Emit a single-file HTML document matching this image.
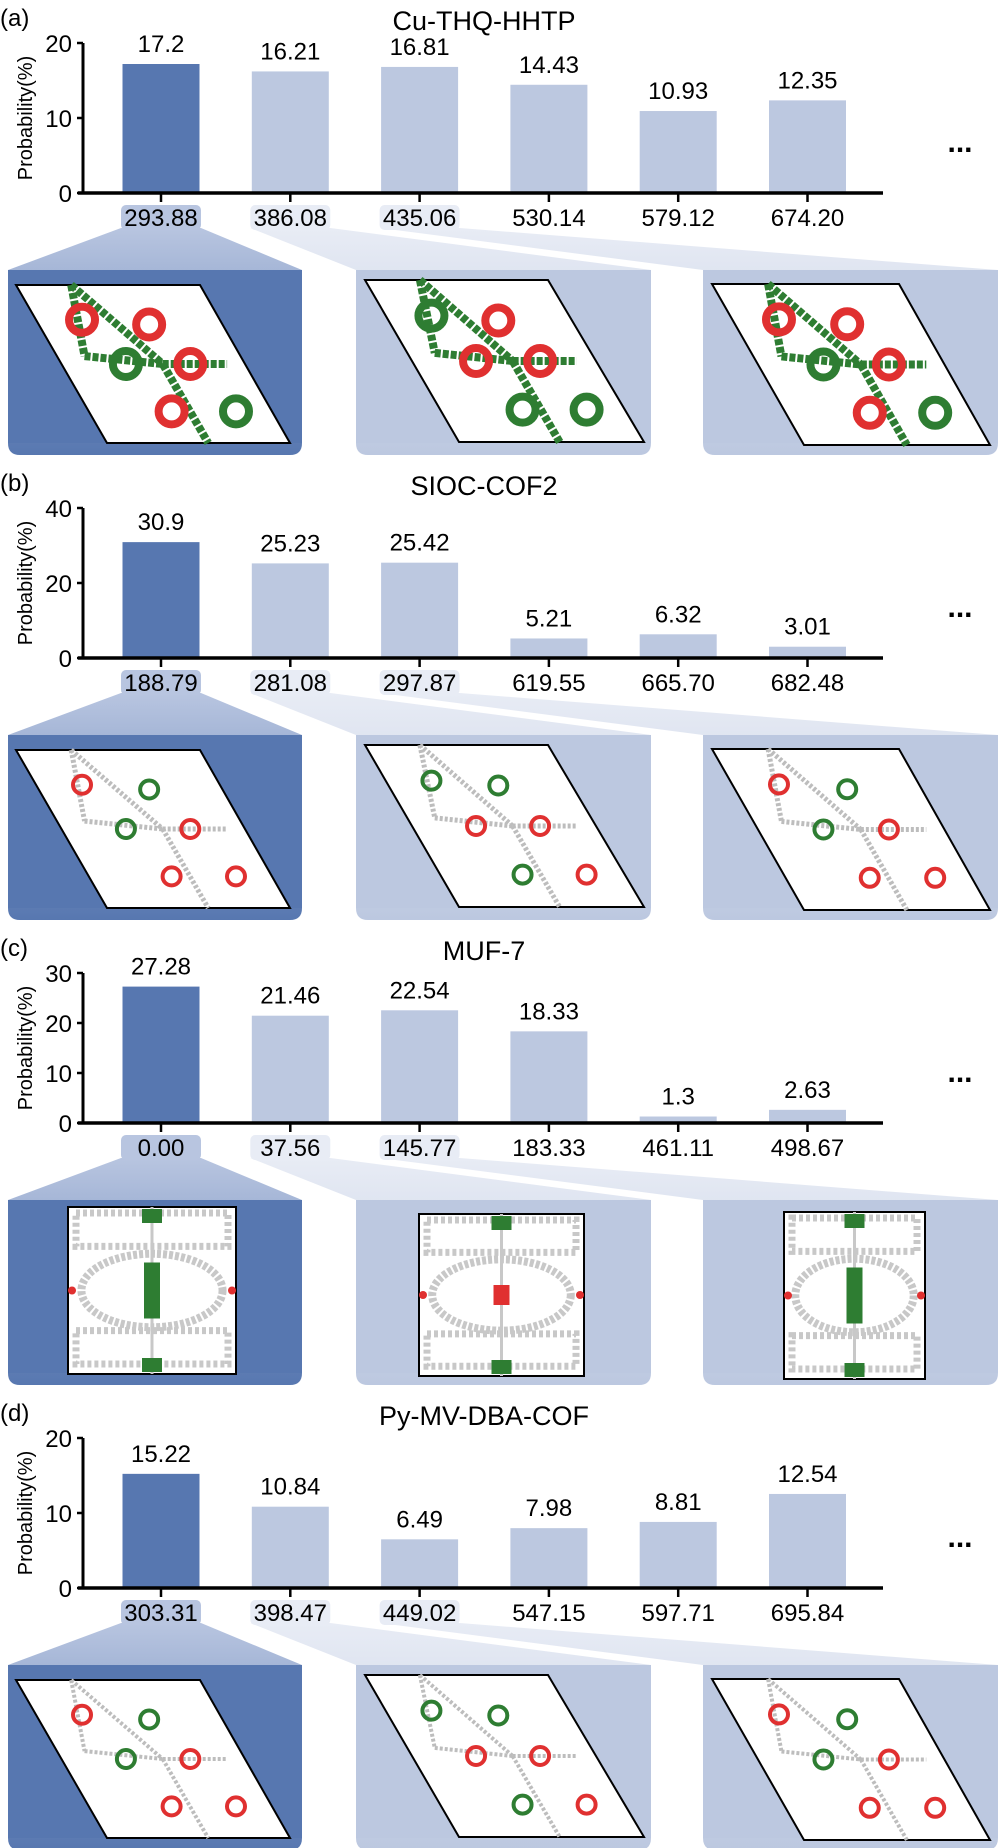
<!DOCTYPE html>
<html><head><meta charset="utf-8">
<style>
html,body{margin:0;padding:0;background:#fff;}
svg{display:block;}
text{font-family:"Liberation Sans Narrow","Liberation Sans",sans-serif;}
</style></head>
<body>
<svg id="fig" xmlns="http://www.w3.org/2000/svg" width="1000" height="1848" viewBox="0 0 1000 1848">
<defs>
<linearGradient id="gDark" x1="0" y1="0" x2="0" y2="1"><stop offset="0" stop-color="#b8c5e0"/><stop offset="1" stop-color="#5777b0"/></linearGradient>
<linearGradient id="gLight" x1="0" y1="0" x2="0" y2="1"><stop offset="0" stop-color="#e8ecf5"/><stop offset="1" stop-color="#bcc8e0"/></linearGradient>
</defs>
</svg>
<script>
const panelTitles = ["Cu-THQ-HHTP","SIOC-COF2","MUF-7","Py-MV-DBA-COF"];
const panelLetters = ["(a)","(b)","(c)","(d)"];
const valuesA = [17.2,16.21,16.81,14.43,10.93,12.35];
const valuesB = [30.9,25.23,25.42,5.21,6.32,3.01];
const valuesC = [27.28,21.46,22.54,18.33,1.3,2.63];
const valuesD = [15.22,10.84,6.49,7.98,8.81,12.54];
const labelsA = ["293.88","386.08","435.06","530.14","579.12","674.20"];
const labelsB = ["188.79","281.08","297.87","619.55","665.70","682.48"];
const labelsC = ["0.00","37.56","145.77","183.33","461.11","498.67"];
const labelsD = ["303.31","398.47","449.02","547.15","597.71","695.84"];
const ticksA = [0,10,20];
const ticksB = [0,20,40];
const ticksC = [0,10,20,30];
const ticksD = [0,10,20];

const allValues=[valuesA,valuesB,valuesC,valuesD];
const allLabels=[labelsA,labelsB,labelsC,labelsD];
const allTicks=[ticksA,ticksB,ticksC,ticksD];
const NS="http://www.w3.org/2000/svg";
const svg=document.getElementById('fig');
function mk(tag,attrs,parent,txt){const e=document.createElementNS(NS,tag);for(const k in attrs)e.setAttribute(k,attrs[k]);if(txt!==undefined)e.textContent=txt;(parent||svg).appendChild(e);return e;}

const DARK="#5777b0",LIGHT="#bcc8e0";
const panelX=[[8,302],[356,651],[703,998]];
const pillY0=205,pillY1=230,panelTop=270,panelBot=455;

for(let p=0;p<4;p++){
  const oy=p*465;
  const g=mk('g',{transform:`translate(0,${oy})`});
  
  
  const vals=allValues[p],labs=allLabels[p],ticks=allTicks[p];
  const ymax=ticks[ticks.length-1];
  const y0=193,y1=43;
  const yS=v=>y0-(v/ymax)*(y0-y1);
  const xC=i=>161+i*129.3;
  const bw=77;
  let t=mk('text',{x:0,y:26,'font-size':24},g,panelLetters[p]);
  
  t=mk('text',{x:484,y:30,'font-size':27,'text-anchor':'middle'},g,panelTitles[p]);
  
  for(let k=0;k<3;k++){
    const pl=xC(k)-40,pr=xC(k)+40;
    const [L,R]=panelX[k];
    const fill=k===0?'url(#gDark)':'url(#gLight)';
    const fp=mk('path',{d:`M${pl},${pillY1-2} L${pr},${pillY1-2} L${R},${panelTop} L${R},${panelBot-12} Q${R},${panelBot} ${R-12},${panelBot} L${L+12},${panelBot} Q${L},${panelBot} ${L},${panelBot-12} L${L},${panelTop} Z`,fill:fill},g);
    
    const bg=mk('rect',{x:L,y:panelTop,width:R-L,height:panelBot-panelTop-12,fill:k===0?DARK:LIGHT},g);
    
    const pill=mk('rect',{x:pl,y:pillY0,width:80,height:pillY1-pillY0,rx:5,fill:k===0?'#b8c5e0':'#e8ecf5'},g);
    
    drawStructure(g,p,k);
  }
  t=mk('text',{transform:`translate(32,118) rotate(-90)`,'font-size':20,'text-anchor':'middle',style:'font-family:"Liberation Sans",sans-serif'},g,'Probability(%)');
  
  vals.forEach((v,i)=>{
    const b=mk('rect',{x:xC(i)-bw/2,y:yS(v),width:bw,height:y0-yS(v),fill:i===0?DARK:LIGHT},g);
    
    const vl=mk('text',{x:xC(i),y:yS(v)-12,'font-size':24,'text-anchor':'middle'},g,String(v));
    
    const tk=mk('line',{x1:xC(i),x2:xC(i),y1:y0,y2:y0+9,stroke:'#000','stroke-width':2.5},g);
    
    const xl=mk('text',{x:xC(i),y:226,'font-size':24,'text-anchor':'middle'},g,labs[i]);
    
  });
  let a=mk('line',{x1:83,x2:83,y1:y1,y2:y0+1.5,stroke:'#000','stroke-width':3},g);
  
  a=mk('line',{x1:78,x2:883,y1:y0,y2:y0,stroke:'#000','stroke-width':3.5},g);
  
  ticks.forEach(tv=>{
    const tl=mk('line',{x1:77,x2:83,y1:yS(tv),y2:yS(tv),stroke:'#000','stroke-width':2.5},g);
    
    const tt=mk('text',{x:72,y:yS(tv)+9,'font-size':24,'text-anchor':'end'},g,String(tv));
    
  });
  const dots=mk('text',{x:960,y:152,'font-size':30,'font-weight':'bold','text-anchor':'middle'},g,'...');
  
}

function drawStructure(g,p,k){
  const sg=mk('g',{},g);
  
  
  if(p===2){
    const sq=[[68,236,277,444],[419,584,284,446],[784,925,282,449]][k];
    const [L,R,T,B]=sq;
    mk('rect',{x:L,y:T,width:R-L,height:B-T,fill:'#fff',stroke:'#000','stroke-width':2},sg);
    const cx=(L+R)/2,cy=(T+B)/2,w=R-L,h=B-T;
    mk('ellipse',{cx:cx,cy:cy,rx:w*0.42,ry:h*0.22,fill:'none',stroke:'#c8c8c8','stroke-width':8,'stroke-dasharray':'4 2'},sg);
    mk('rect',{x:L+8,y:T+6,width:w-16,height:h*0.2,fill:'none',stroke:'#c8c8c8','stroke-width':7,'stroke-dasharray':'4 3'},sg);
    mk('rect',{x:L+8,y:B-h*0.26,width:w-16,height:h*0.2,fill:'none',stroke:'#c8c8c8','stroke-width':7,'stroke-dasharray':'4 3'},sg);
    mk('line',{x1:cx,x2:cx,y1:T,y2:B,stroke:'#c8c8c8','stroke-width':3},sg);
    const mc=k===1?'#e03030':'#2e7d32';
    mk('rect',{x:cx-8,y:cy-(k===1?10:28),width:16,height:k===1?20:56,fill:mc},sg);
    mk('rect',{x:cx-10,y:T+2,width:20,height:14,fill:'#2e7d32'},sg);
    mk('rect',{x:cx-10,y:B-16,width:20,height:14,fill:'#2e7d32'},sg);
    mk('circle',{cx:L+4,cy:cy,r:4,fill:'#e03030'},sg);
    mk('circle',{cx:R-4,cy:cy,r:4,fill:'#e03030'},sg);
    return;
  }
  const geo=[[16,200,107,290,285,443],[365,548,459,644,280,442],[712,899,804,990,284,445]][k];
  const [tl,tr,bl,br,ty,by]=geo;
  mk('polygon',{points:`${tl},${ty} ${tr},${ty} ${br},${by} ${bl},${by}`,fill:'#fff',stroke:'#000','stroke-width':2},sg);
  const P=(u,v)=>[tl+u*(tr-tl)+v*(bl-tl),ty+v*(by-ty)];
  const nodes=[[0.3,0],[0.15,0.45],[0.55,0.5],[0.9,0.5],[0.55,1],[0.45,0.5]];
  const edges=[[0,1],[0,2],[2,3],[2,4],[1,2]];
  const sw=p===0?8:p===3?4:5;
  const gc=p===0?'#2e7d32':'#bdbdbd';
  edges.forEach(e=>{const a=P(...nodes[e[0]]),b=P(...nodes[e[1]]);mk('line',{x1:a[0],y1:a[1],x2:b[0],y2:b[1],stroke:gc,'stroke-width':sw,'stroke-dasharray':p===0?'6 2':'3 2'},sg);});
  const spots=[[0.25,0.22,'#e03030'],[0.6,0.25,p===0?'#e03030':'#2e7d32'],[0.35,0.5,'#2e7d32'],[0.7,0.5,'#e03030'],[0.45,0.8,'#e03030'],[0.8,0.8,p===0?'#2e7d32':'#e03030']];
  spots.forEach((s,i)=>{
    const c=P(s[0],s[1]);
    const col=(k===1&&i%2===0)?(s[2]==='#e03030'?'#2e7d32':'#e03030'):s[2];
    mk('circle',{cx:c[0],cy:c[1],r:p===0?13:9,fill:'none',stroke:col,'stroke-width':p===0?8:4},sg);
  });
}
</script>
</body></html>
